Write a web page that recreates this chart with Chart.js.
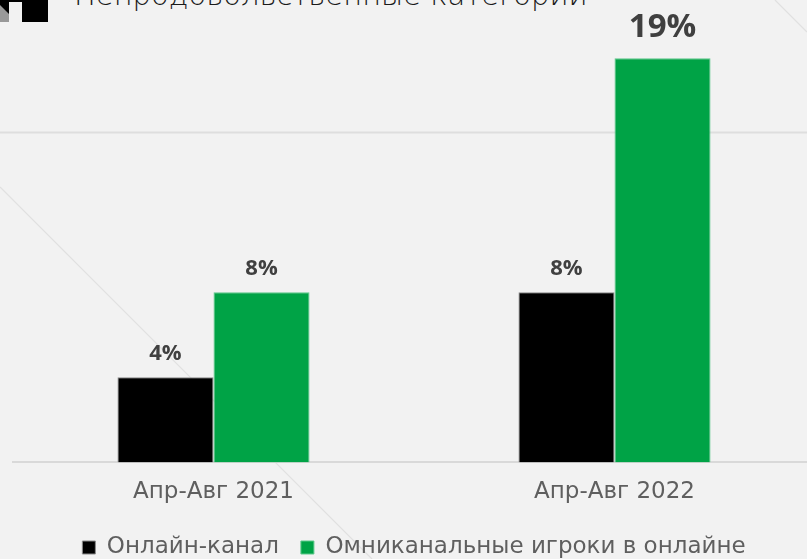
<!DOCTYPE html>
<html lang="ru">
<head>
<meta charset="utf-8">
<script src="https://cdn.jsdelivr.net/npm/chart.js@4.4.1/dist/chart.umd.min.js"></script>
<style>
  html, body { margin: 0; padding: 0; background: #f2f2f2; overflow: hidden; }
  .slide { position: relative; width: 807px; height: 559px; overflow: hidden; background: #f2f2f2; }
  .deco { position: absolute; left: 0; top: 0; width: 807px; height: 559px; }
  .title {
    position: absolute; left: 74px; top: -22px; white-space: nowrap;
    font-family: "DejaVu Sans", sans-serif; font-weight: 300; font-size: 29px; color: #1a1a1a;
  }
  .chart-box { position: absolute; left: 0; top: 0; width: 815px; height: 569px; }
</style>
</head>
<body>
<div class="slide">
  <!-- фон слайда: логотип, тонкие диагонали, линия сетки -->
  <svg class="deco" viewBox="0 0 807 559">
    <rect x="0" y="0" width="48" height="22" fill="#000"/>
    <rect x="9" y="2" width="13" height="20" fill="#f2f2f2"/>
    <polygon points="0,5 9,14 9,22 0,22" fill="#999"/>
    <line x1="0" y1="187" x2="372" y2="559" stroke="#e0e0e0" stroke-width="1.2"/>
    <line x1="775" y1="0" x2="807" y2="32" stroke="#e0e0e0" stroke-width="1.2"/>
    <line x1="0" y1="132.5" x2="807" y2="132.5" stroke="#dedede" stroke-width="2"/>
  </svg>
  <div class="title">Непродовольственные категории</div>
  <div class="chart-box"><canvas id="barChart"></canvas></div>
</div>
<script>
// --- данные ---
const periods = ['Апр-Авг 2021', 'Апр-Авг 2022'];
const seriesNames = ['Онлайн-канал', 'Омниканальные игроки в онлайне'];
const onlineShare = [4, 8];
const omniShare = [8, 19];

const LABEL_FONT = '"Open Sans", sans-serif';
const TEXT_FONT = '"DejaVu Sans", sans-serif';

// подписи значений над столбиками, максимум крупнее
const valueLabels = {
  id: 'valueLabels',
  afterDatasetsDraw(chart) {
    const ctx = chart.ctx;
    const all = chart.data.datasets.flatMap(d => d.data);
    const maxVal = Math.max(...all);
    ctx.save();
    ctx.fillStyle = '#404040';
    ctx.textAlign = 'center';
    ctx.textBaseline = 'bottom';
    chart.data.datasets.forEach((ds, i) => {
      chart.getDatasetMeta(i).data.forEach((bar, j) => {
        const v = ds.data[j];
        const big = v === maxVal;
        ctx.font = `700 ${big ? 33 : 22}px ${LABEL_FONT}`;
        ctx.fillText(v + '%', bar.x, bar.y - (big ? 14 : 13));
      });
    });
    ctx.restore();
  }
};

new Chart(document.getElementById('barChart').getContext('2d'), {
  type: 'bar',
  data: {
    labels: periods,
    datasets: [{
      label: seriesNames[0],
      data: onlineShare,
      backgroundColor: '#000000',
      borderColor: '#8a8a8a',
      borderWidth: 1
    }, {
      label: seriesNames[1],
      data: omniShare,
      backgroundColor: '#00a346',
      borderColor: '#5cc98a',
      borderWidth: 1
    }]
  },
  options: {
    responsive: true,
    maintainAspectRatio: false,
    animation: false,
    layout: { padding: { top: 37, left: 13, right: 0, bottom: 0 } },
    datasets: { bar: { barPercentage: 1, categoryPercentage: 0.479 } },
    plugins: {
      legend: {
        position: 'bottom',
        labels: {
          color: '#5f5f5f',
          font: { family: TEXT_FONT, size: 23 },
          boxWidth: 13, boxHeight: 13,
          padding: 22
        }
      },
      tooltip: { enabled: false }
    },
    scales: {
      x: {
        grid: { display: false },
        border: { color: '#d9d9d9', width: 2 },
        ticks: { color: '#5f5f5f', font: { family: TEXT_FONT, size: 23 }, padding: 8 }
      },
      y: {
        display: false,
        min: 0,
        max: 20
      }
    }
  },
  plugins: [valueLabels]
});
</script>
</body>
</html>
